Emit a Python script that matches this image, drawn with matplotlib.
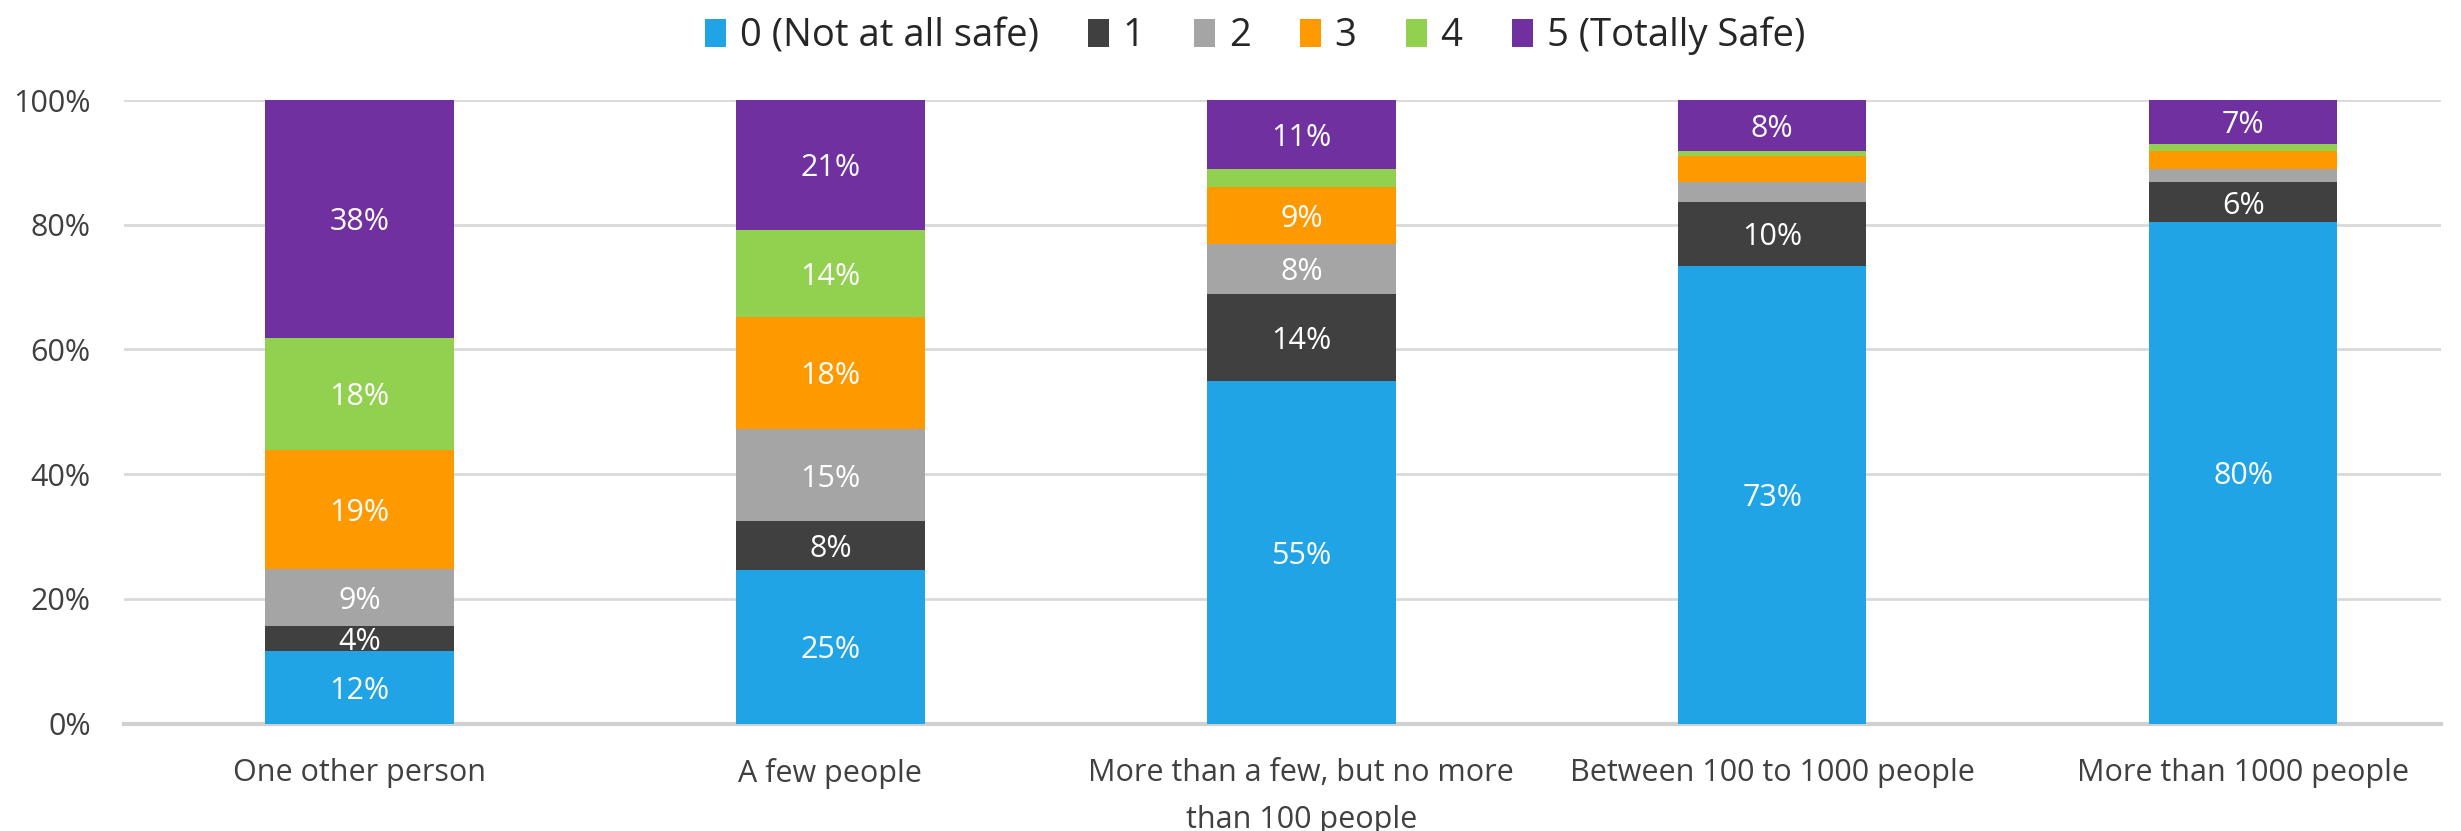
import matplotlib.pyplot as plt
import numpy as np

plt.rcParams['font.family'] = ['Open Sans', 'DejaVu Sans']

categories = ['One other person', 'A few people',
              'More than a few, but no more\nthan 100 people',
              'Between 100 to 1000 people', 'More than 1000 people']
series = ['0 (Not at all safe)', '1', '2', '3', '4', '5 (Totally Safe)']

# percent of respondents per rating, one list per rating
r0 = [11.7, 24.6, 54.9, 73.4, 80.4]
r1 = [4.0, 7.8, 14.0, 10.3, 6.4]
r2 = [9.0, 14.9, 8.0, 3.1, 2.1]
r3 = [19.1, 17.9, 9.1, 4.2, 2.9]
r4 = [18.1, 14.0, 3.0, 0.9, 1.2]
r5 = [38.1, 20.8, 11.0, 8.1, 7.0]

# which segments carry a data label
shown = [[1, 1, 1, 1, 1],
         [1, 1, 1, 1, 1],
         [1, 1, 1, 0, 0],
         [1, 1, 1, 0, 0],
         [1, 1, 0, 0, 0],
         [1, 1, 1, 1, 1]]

colors = ['#20A4E6', '#404040', '#A5A5A5', '#FF9900', '#92D050', '#7030A0']

data = np.array([r0, r1, r2, r3, r4, r5])
x = np.arange(len(categories))

fig = plt.figure(figsize=(24.61, 8.31), dpi=100)
ax = fig.add_axes([124/2461, 1 - 723.5/831, (2441-124)/2461, (723.5-100)/831])

bottom = np.zeros(len(categories))
for i in range(len(series)):
    ax.bar(x, data[i], 0.4, bottom=bottom, color=colors[i], label=series[i], zorder=3)
    for j in range(len(categories)):
        if shown[i][j]:
            ax.text(x[j], bottom[j] + data[i][j]/2, f'{data[i][j]:.0f}%', ha='center',
                    va='center_baseline', color='white', fontsize=22, zorder=4)
    bottom += data[i]

ax.set_ylim(0, 100)
ax.set_xlim(-0.5, 4.42)
ax.set_yticks(range(0, 101, 20))
ax.set_yticklabels([f'{v}%' for v in range(0, 101, 20)])
ax.set_xticks(x)
ax.set_xticklabels(categories, linespacing=1.75)
ax.tick_params(axis='both', length=0, labelsize=22, colors='#404040')
ax.tick_params(axis='y', pad=24)
ax.tick_params(axis='x', pad=25)
ax.yaxis.grid(True, color='#D9D9D9', linewidth=2, zorder=0)
for s in ['top', 'right', 'left']:
    ax.spines[s].set_visible(False)
ax.spines['bottom'].set_color('#D0D0D0')
ax.spines['bottom'].set_linewidth(3)

fig.legend(loc='center', bbox_to_anchor=(0.51, 1 - 36/831), ncol=6, frameon=False,
           fontsize=27.5, handlelength=0.55, handleheight=0.75, handletextpad=0.35,
           columnspacing=1.3, labelcolor='#262626')

plt.savefig('out.png', dpi=100)
